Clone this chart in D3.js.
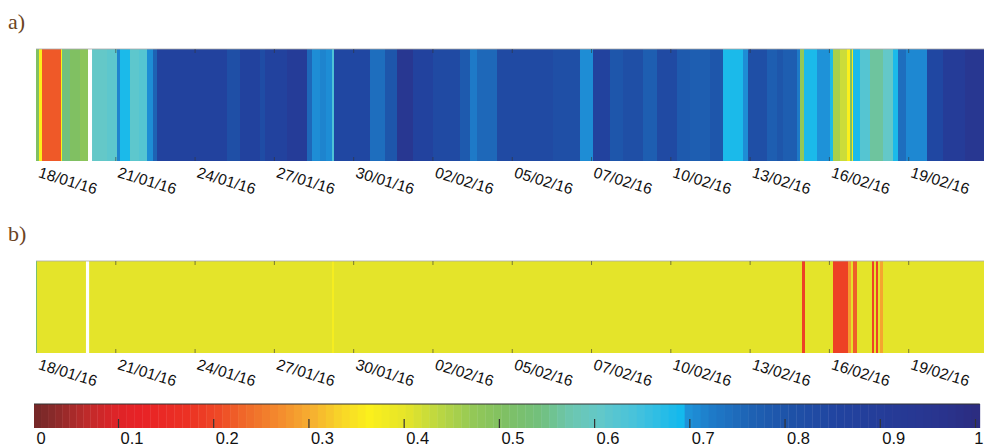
<!DOCTYPE html>
<html>
<head>
<meta charset="utf-8">
<script src="https://cdn.jsdelivr.net/npm/d3@7"></script>
<style>
  body { margin: 0; background: #fff; }
  svg { display: block; }
</style>
</head>
<body>
<div id="chart"></div>
<script>
(function() {
  var width = 984,
    height = 447;

  // tick labels on the time axis (every 3 samples-days)
  var tickDays = [0, 3, 6, 9, 12, 15, 18, 21, 24, 27, 30, 33];
  var tickLabels = ["18/01/16", "21/01/16", "24/01/16", "27/01/16", "30/01/16", "02/02/16",
    "05/02/16", "07/02/16", "10/02/16", "13/02/16", "16/02/16", "19/02/16"];

  // panel a) : segment start (days from first tick) and value, null = no data
  var startsA = [0, 0.13, 0.23, 0.95, 0.98, 1.29, 1.66, 1.97, 2.12, 2.69, 3.06, 3.18, 3.56, 3.90,
    4.20, 4.43, 4.58, 7.23, 7.72, 8.48, 8.66, 9.50, 10.25, 10.44, 10.75, 10.97, 11.20, 11.26,
    12.64, 13.20, 13.66, 14.26, 15.02, 16.04, 16.42, 16.69, 17.44, 19.56, 20.58, 21.07, 21.72,
    22.21, 22.97, 23.50, 24.25, 24.74, 25.50, 25.99, 26.75, 26.94, 27.66, 28.04, 28.26, 28.79,
    28.91, 29.06, 29.55, 30.04, 30.16, 30.42, 30.69, 30.80, 30.87, 30.91, 31.18, 31.55, 32.05,
    32.43, 32.61, 32.92, 33.71, 34.32, 35.15];
  var valuesA = [0.50, 0.36, 0.215, 0.36, 0.54, 0.50, 0.48, null, 0.60, 0.61, 0.71, 0.68, 0.61, 0.62,
    0.70, 0.76, 0.86, 0.81, 0.86, 0.82, 0.86, 0.90, 0.75, 0.70, 0.71, 0.70, 0.63, 0.84,
    0.74, 0.79, 0.94, 0.86, 0.83, 0.78, 0.72, 0.75, 0.83, 0.81, 0.70, 0.86, 0.79,
    0.81, 0.77, 0.83, 0.78, 0.77, 0.79, 0.68, 0.70, 0.81, 0.77, 0.79, 0.77, 0.72,
    0.47, 0.68, 0.695, 0.68, 0.45, 0.42, 0.36, 0.50, 0.37, 0.68, 0.62, 0.56, 0.60,
    0.68, 0.74, 0.705, 0.84, 0.90, 0.94];

  // panel b)
  var startsB = [0, 0.04, 1.89, 2.01, 11.20, 11.26, 28.98, 29.08, 30.16, 30.74, 30.83, 30.91,
    31.06, 31.63, 31.71, 31.78, 31.86, 31.95, 32.05];
  var valuesB = [0.52, 0.40, null, 0.40, 0.37, 0.40, 0.19, 0.40, 0.19, 0.28, 0.40, 0.22,
    0.40, 0.19, 0.40, 0.19, 0.40, 0.29, 0.40];

  // colour map
  var cmapStops = [0, 0.02, 0.06, 0.09, 0.12, 0.17, 0.20, 0.23, 0.27, 0.30, 0.33, 0.36, 0.40,
    0.43, 0.47, 0.50, 0.54, 0.57, 0.60, 0.64, 0.69, 0.695, 0.72, 0.76, 0.80, 0.85, 0.90, 0.96, 1];
  var cmapColors = ["#772828", "#8a2a2a", "#c02a2a", "#dc2428", "#e82226", "#ec3224", "#ee4826",
    "#f06a2a", "#f4902e", "#f6b030", "#f8d628", "#fbf01c", "#e4e42a", "#bed840", "#92c858",
    "#80c062", "#72c07e", "#6cc6ae", "#64c8c8", "#46c2dc", "#10b8ee", "#1e92d8", "#1e7ac8",
    "#1e62b4", "#1e52a8", "#2144a0", "#253c98", "#29348e", "#2c2c80"];
  var cbTicks = [0, 0.1, 0.2, 0.3, 0.4, 0.5, 0.6, 0.7, 0.8, 0.9, 1];

  var color = d3.scaleLinear().domain(cmapStops).range(cmapColors).clamp(true);

  var svg = d3.select("#chart")
    .append("svg")
    .attr("width", width)
    .attr("height", height)
    .style("font-family", "'Liberation Sans', Arial, sans-serif");

  var x = d3.scaleLinear().domain([0, 36]).range([36, 987.5]);
  var dayEnd = 36;

  var panels = [
    { label: "a)", labelY: 29, top: 49, h: 112, starts: startsA, values: valuesA },
    { label: "b)", labelY: 241, top: 261, h: 92, starts: startsB, values: valuesB }
  ];

  panels.forEach(function(p) {
    svg.append("text")
      .attr("x", 8)
      .attr("y", p.labelY)
      .attr("fill", "#6b4423")
      .style("font-family", "'Liberation Serif', 'DejaVu Serif', serif")
      .style("font-size", "22px")
      .text(p.label);

    var segs = p.starts.map(function(s, i) {
      return { s: s, e: i < p.starts.length - 1 ? p.starts[i + 1] : dayEnd, v: p.values[i] };
    });

    var g = svg.append("g");
    g.selectAll("rect.seg")
      .data(segs.filter(function(d) { return d.v !== null; }))
      .enter().append("rect")
      .attr("class", "seg")
      .attr("x", function(d) { return x(d.s); })
      .attr("width", function(d) { return x(d.e) - x(d.s) + 0.3; })
      .attr("y", p.top)
      .attr("height", p.h)
      .attr("fill", function(d) { return color(d.v); })
      .attr("shape-rendering", "crispEdges");

    // white gaps for missing data
    g.selectAll("rect.gap")
      .data(segs.filter(function(d) { return d.v === null; }))
      .enter().append("rect")
      .attr("class", "gap")
      .attr("x", function(d) { return x(d.s); })
      .attr("width", function(d) { return x(d.e) - x(d.s); })
      .attr("y", p.top - 1)
      .attr("height", p.h + 2)
      .attr("fill", "#fff");

    g.append("line")
      .attr("x1", x(0)).attr("x2", width)
      .attr("y1", p.top).attr("y2", p.top)
      .attr("stroke", "#aaa").attr("stroke-width", 0.8);

    // ticks inside top
    var top = svg.append("g")
      .attr("transform", "translate(0," + p.top + ")")
      .call(d3.axisTop(x).tickValues(tickDays.slice(1)).tickSizeInner(-4).tickSizeOuter(0).tickFormat(""));
    top.select(".domain").remove();
    top.selectAll("line").attr("stroke", "#333").attr("stroke-opacity", 0.6);

    var bottom = svg.append("g")
      .attr("transform", "translate(0," + (p.top + p.h) + ")")
      .call(d3.axisBottom(x).tickValues(tickDays).tickSizeInner(-4).tickSizeOuter(0)
        .tickFormat(function(d, i) { return tickLabels[i]; }));
    bottom.select(".domain").remove();
    bottom.selectAll("line")
      .attr("stroke", "#333").attr("stroke-opacity", 0.6)
      .filter(function(d) { return d === 0; }).remove();
    bottom.selectAll("text")
      .attr("x", 0).attr("y", 0).attr("dy", 0)
      .attr("transform", "translate(1,16) rotate(17)")
      .attr("text-anchor", "start")
      .attr("fill", "#111")
      .style("font-size", "15.5px");
  });

  // colour bar
  var cb = d3.scaleLinear().domain([0, 0.1, 1]).range([34, 118, 975]);
  var cbTop = 404, cbH = 24, nSteps = 120;
  var steps = d3.range(nSteps).map(function(i) { return i * 1.005 / nSteps; });
  var cbg = svg.append("g");
  cbg.selectAll("rect")
    .data(steps)
    .enter().append("rect")
    .attr("x", function(d) { return cb(d); })
    .attr("width", function(d) { return cb(d + 1.005 / nSteps) - cb(d) + 0.4; })
    .attr("y", cbTop)
    .attr("height", cbH)
    .attr("fill", function(d) { return color(d); });

  cbg.append("line")
    .attr("x1", cb(0)).attr("x2", cb(1.005))
    .attr("y1", cbTop).attr("y2", cbTop)
    .attr("stroke", "#333").attr("stroke-width", 1.2);

  var cbAxis = svg.append("g")
    .attr("transform", "translate(0," + (cbTop + cbH) + ")")
    .call(d3.axisBottom(cb).tickValues(cbTicks).tickSizeInner(-9).tickSizeOuter(0)
      .tickFormat(function(d) { return d === 0 || d === 1 ? d3.format("d")(d) : d3.format(".1f")(d); }));
  cbAxis.select(".domain").remove();
  cbAxis.selectAll("line")
    .attr("stroke", "#333").attr("stroke-width", 1.2)
    .filter(function(d) { return d === 0; }).remove();
  cbAxis.selectAll("text")
    .attr("y", 16).attr("dy", 0)
    .attr("x", function(d) { return d === 1 ? 8 : 2; })
    .attr("text-anchor", function(d) { return d === 1 ? "end" : "start"; })
    .attr("fill", "#111")
    .style("font-size", "16.5px");
})();
</script>
</body>
</html>
